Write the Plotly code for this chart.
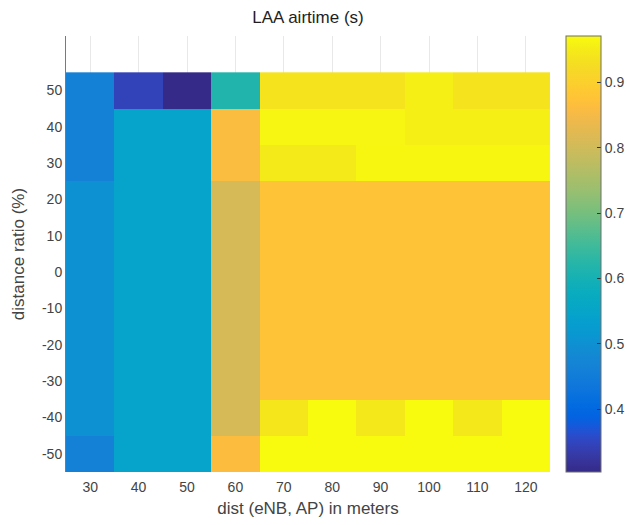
import plotly.graph_objects as go

# Axes: distance between eNB and AP (m) and distance ratio (%)
dist_m = [30, 40, 50, 60, 70, 80, 90, 100, 110, 120]
ratio_pct = [-50, -40, -30, -20, -10, 0, 10, 20, 30, 40, 50]

# LAA airtime (s), one row per distance ratio (bottom row = -50 %)
airtime_m50 = [0.463, 0.547, 0.547, 0.862, 0.971, 0.971, 0.971, 0.971, 0.971, 0.971]
airtime_m40 = [0.500, 0.547, 0.547, 0.808, 0.942, 0.971, 0.945, 0.971, 0.945, 0.971]
airtime_m30 = [0.500, 0.547, 0.547, 0.808, 0.876, 0.876, 0.876, 0.876, 0.876, 0.876]
airtime_m20 = [0.500, 0.547, 0.547, 0.808, 0.876, 0.876, 0.876, 0.876, 0.876, 0.876]
airtime_m10 = [0.500, 0.547, 0.547, 0.808, 0.876, 0.876, 0.876, 0.876, 0.876, 0.876]
airtime_0 = [0.500, 0.547, 0.547, 0.808, 0.876, 0.876, 0.876, 0.876, 0.876, 0.876]
airtime_p10 = [0.500, 0.547, 0.547, 0.808, 0.876, 0.876, 0.876, 0.876, 0.876, 0.876]
airtime_p20 = [0.500, 0.547, 0.547, 0.808, 0.876, 0.876, 0.876, 0.876, 0.876, 0.876]
airtime_p30 = [0.463, 0.547, 0.547, 0.860, 0.948, 0.948, 0.965, 0.965, 0.965, 0.965]
airtime_p40 = [0.463, 0.547, 0.547, 0.860, 0.963, 0.963, 0.963, 0.955, 0.955, 0.955]
airtime_p50 = [0.463, 0.346, 0.304, 0.616, 0.939, 0.939, 0.939, 0.955, 0.939, 0.939]

airtime = [airtime_m50, airtime_m40, airtime_m30, airtime_m20, airtime_m10,
           airtime_0, airtime_p10, airtime_p20, airtime_p30, airtime_p40, airtime_p50]

color_min, color_max = 0.304, 0.971
cbar_ticks = [0.4, 0.5, 0.6, 0.7, 0.8, 0.9]

# 64-step parula colormap
parula = [
    (0.2081, 0.1663, 0.5292), (0.2116, 0.1898, 0.5777), (0.2123, 0.2138, 0.6270),
    (0.2081, 0.2386, 0.6771), (0.1959, 0.2645, 0.7279), (0.1707, 0.2919, 0.7792),
    (0.1253, 0.3242, 0.8303), (0.0591, 0.3598, 0.8683), (0.0117, 0.3875, 0.8820),
    (0.0060, 0.4086, 0.8828), (0.0165, 0.4266, 0.8786), (0.0329, 0.4430, 0.8720),
    (0.0498, 0.4586, 0.8641), (0.0629, 0.4737, 0.8554), (0.0723, 0.4887, 0.8467),
    (0.0779, 0.5040, 0.8384), (0.0793, 0.5200, 0.8312), (0.0749, 0.5375, 0.8263),
    (0.0641, 0.5570, 0.8240), (0.0488, 0.5772, 0.8228), (0.0343, 0.5966, 0.8199),
    (0.0265, 0.6137, 0.8135), (0.0239, 0.6287, 0.8038), (0.0231, 0.6418, 0.7913),
    (0.0228, 0.6535, 0.7768), (0.0267, 0.6642, 0.7607), (0.0384, 0.6743, 0.7436),
    (0.0590, 0.6838, 0.7254), (0.0843, 0.6928, 0.7062), (0.1133, 0.7015, 0.6859),
    (0.1453, 0.7098, 0.6646), (0.1801, 0.7177, 0.6424), (0.2178, 0.7250, 0.6193),
    (0.2586, 0.7317, 0.5954), (0.3022, 0.7376, 0.5712), (0.3482, 0.7424, 0.5473),
    (0.3953, 0.7459, 0.5244), (0.4420, 0.7481, 0.5033), (0.4871, 0.7491, 0.4840),
    (0.5300, 0.7491, 0.4661), (0.5709, 0.7485, 0.4494), (0.6099, 0.7473, 0.4337),
    (0.6473, 0.7456, 0.4188), (0.6834, 0.7435, 0.4044), (0.7184, 0.7411, 0.3905),
    (0.7525, 0.7384, 0.3768), (0.7858, 0.7356, 0.3633), (0.8185, 0.7327, 0.3498),
    (0.8507, 0.7299, 0.3360), (0.8824, 0.7274, 0.3217), (0.9139, 0.7258, 0.3063),
    (0.9450, 0.7261, 0.2886), (0.9739, 0.7314, 0.2666), (0.9938, 0.7455, 0.2403),
    (0.9990, 0.7653, 0.2164), (0.9955, 0.7861, 0.1967), (0.9880, 0.8066, 0.1794),
    (0.9789, 0.8271, 0.1633), (0.9697, 0.8481, 0.1475), (0.9626, 0.8705, 0.1309),
    (0.9589, 0.8949, 0.1132), (0.9598, 0.9218, 0.0948), (0.9661, 0.9514, 0.0755),
    (0.9763, 0.9831, 0.0538),
]
n = len(parula)
colorscale = [
    [i / (n - 1), "rgb({:.0f},{:.0f},{:.0f})".format(r * 255, g * 255, b * 255)]
    for i, (r, g, b) in enumerate(parula)
]

font_family = "Liberation Sans, Arial, Helvetica, sans-serif"
text_color = "#444444"

fig = go.Figure(
    go.Heatmap(
        x=dist_m,
        y=ratio_pct,
        z=airtime,
        colorscale=colorscale,
        zmin=color_min,
        zmax=color_max,
        colorbar=dict(
            x=1.033,
            xanchor="left",
            xpad=0,
            y=0.5,
            yanchor="middle",
            ypad=0,
            len=1,
            lenmode="fraction",
            thickness=35,
            outlinecolor="#6e6e6e",
            outlinewidth=1,
            tickvals=cbar_ticks,
            ticktext=[f"{v:.1f}" for v in cbar_ticks],
            ticks="inside",
            ticklen=4,
            tickcolor="#333333",
            tickfont=dict(size=14, color=text_color, family=font_family),
        ),
    )
)

fig.update_layout(
    width=630,
    height=525,
    margin=dict(l=66, r=80, t=36, b=53, autoexpand=False),
    paper_bgcolor="white",
    plot_bgcolor="white",
    font=dict(family=font_family, color=text_color),
    title=dict(
        text="LAA airtime (s)",
        x=308 / 630,
        xanchor="center",
        y=1 - 17 / 525,
        yanchor="middle",
        font=dict(size=17, color="#1e1e1e", family=font_family),
    ),
    xaxis=dict(
        range=[25, 125],
        tickvals=dist_m,
        ticks="",
        ticklabelstandoff=5,
        showgrid=True,
        gridcolor="#e8e8e8",
        gridwidth=1,
        zeroline=False,
        showline=False,
        tickfont=dict(size=14, color=text_color),
        title=dict(text="dist (eNB, AP) in meters", font=dict(size=17, color=text_color), standoff=8),
        layer="below traces",
    ),
    yaxis=dict(
        range=[-55, 65],
        tickvals=ratio_pct,
        ticktext=[str(v) for v in ratio_pct],
        ticks="",
        showgrid=False,
        zeroline=False,
        showline=True,
        linecolor="#7a7a7a",
        linewidth=1,
        tickfont=dict(size=14, color=text_color),
        title=dict(text="distance ratio (%)", font=dict(size=17, color=text_color), standoff=13),
        layer="below traces",
    ),
)

fig.write_html("out.html")
